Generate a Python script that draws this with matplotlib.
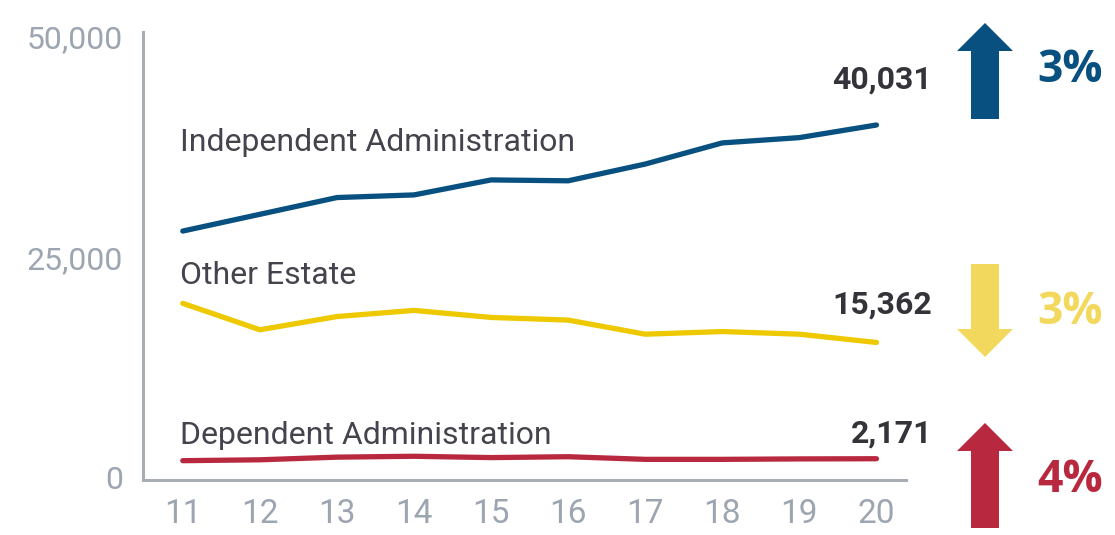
import matplotlib
matplotlib.use("Agg")
import matplotlib.pyplot as plt
from matplotlib.patches import Polygon

# 年份 (2011-2020 簡寫)
years = [11, 12, 13, 14, 15, 16, 17, 18, 19, 20]

# 各類案件數
independent = [28000, 29900, 31800, 32100, 33800, 33700, 35600, 38000, 38600, 40031]
other_estate = [19800, 16800, 18300, 19000, 18200, 17900, 16300, 16600, 16300, 15362]
dependent = [1950, 2050, 2350, 2450, 2300, 2400, 2100, 2100, 2150, 2171]

series_names = ["Independent Administration", "Other Estate", "Dependent Administration"]
pct_labels = ["3%", "3%", "4%"]

blue = "#07507F"
yellow = "#EEC900"
yellow_arrow = "#F2D95E"
red = "#B8293F"
gray = "#A9AEB5"
txt = "#44444E"

narrow = ["Roboto", "DejaVu Sans"]

fig = plt.figure(figsize=(11.15, 5.35), dpi=100)
ax = fig.add_axes([0.128, 0.103, 0.685, 0.837])

ax.plot(years, independent, color=blue, lw=3.8, solid_capstyle="round")
ax.plot(years, other_estate, color=yellow, lw=3.8, solid_capstyle="round")
ax.plot(years, dependent, color=red, lw=3.8, solid_capstyle="round")

ax.set_xlim(10.48, 20.39)
ax.set_ylim(-230, 50570)
ax.set_xticks(years)
ax.set_xticklabels([str(y) for y in years], family=narrow, fontsize=24, color="#9CA5B0")
ax.set_yticks([0, 25000, 50000])
ax.set_yticklabels(["0", "25,000", "50,000"], family=narrow, fontsize=23, color="#9CA5B0")
ax.tick_params(length=0)
ax.tick_params(axis="y", pad=14)
ax.tick_params(axis="x", pad=13)

for s in ["top", "right"]:
    ax.spines[s].set_visible(False)
for s in ["left", "bottom"]:
    ax.spines[s].set_color(gray)
    ax.spines[s].set_linewidth(2.2)

# 系列名稱
ax.text(10.97, 38000, series_names[0], family=narrow, fontsize=23, color=txt, va="center")
ax.text(10.97, 23000, series_names[1], family=narrow, fontsize=23, color=txt, va="center")
ax.text(10.97, 4800, series_names[2], family=narrow, fontsize=23, color=txt, va="center")

# 最新數值
ax.text(20.72, independent[-1] + 5200, f"{independent[-1]:,}", family=narrow, fontsize=23,
        fontweight="bold", color="#333339", ha="right", va="center")
ax.text(20.72, other_estate[-1] + 4300, f"{other_estate[-1]:,}", family=narrow, fontsize=23,
        fontweight="bold", color="#333339", ha="right", va="center")
ax.text(20.72, dependent[-1] + 2800, f"{dependent[-1]:,}", family=narrow, fontsize=23,
        fontweight="bold", color="#333339", ha="right", va="center")

# 右側箭頭與百分比 (以像素座標繪製)
ov = fig.add_axes([0, 0, 1, 1])
ov.set_xlim(0, 1115)
ov.set_ylim(535, 0)
ov.axis("off")


def up_arrow(top, bottom, color):
    pts = [(985, top), (1013, top + 28), (999, top + 28), (999, bottom),
           (971, bottom), (971, top + 28), (957, top + 28)]
    ov.add_patch(Polygon(pts, closed=True, color=color, lw=0))


def down_arrow(top, bottom, color):
    pts = [(985, bottom), (1013, bottom - 28), (999, bottom - 28), (999, top),
           (971, top), (971, bottom - 28), (957, bottom - 28)]
    ov.add_patch(Polygon(pts, closed=True, color=color, lw=0))


up_arrow(23, 119, blue)
down_arrow(264, 357, yellow_arrow)
up_arrow(423, 528, red)

for y, lab, c in [(70, pct_labels[0], blue), (312, pct_labels[1], yellow_arrow), (480, pct_labels[2], red)]:
    ov.text(1070, y, lab, fontsize=32, fontweight="bold", color=c, ha="center", va="center",
            family=["Open Sans", "DejaVu Sans"])

fig.savefig("out.png", dpi=100)
